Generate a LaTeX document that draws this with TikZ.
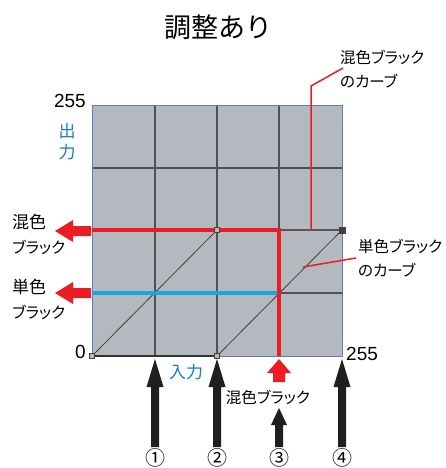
\documentclass[tikz,border=0pt]{standalone}
\usepackage{fontspec}
\setmainfont{Liberation Sans}
\newfontfamily\jp[RawFeature=+palt]{Noto Sans CJK JP}
\newfontfamily\jpn{Noto Sans CJK JP}
\definecolor{gridfill}{HTML}{B4B9BF}
\definecolor{gridline}{HTML}{4E5257}
\definecolor{frameblue}{HTML}{5B7DC0}
\definecolor{redc}{HTML}{EC1C24}
\definecolor{cyanc}{HTML}{17A5E3}
\definecolor{labblue}{HTML}{1B7DC4}
\definecolor{curvec}{HTML}{4A3C3A}
\begin{document}
\begin{tikzpicture}[x=1pt,y=-1pt,
  lab/.style={font=\jp\fontsize{15.5}{18}\selectfont, inner sep=0pt, align=left},
  num/.style={font=\fontsize{19}{21}\selectfont, inner sep=0pt},
  bluelab/.style={font=\jpn\fontsize{17}{19}\selectfont, text=labblue, inner sep=0pt},
  circ/.style={font=\jpn\fontsize{20}{22}\selectfont, inner sep=0pt},
  gridl/.style={draw=gridline, line width=1.1pt},
  curve/.style={draw=curvec, line width=0.8pt},
  pt/.style={draw=curvec, line width=0.8pt, fill=gridfill, minimum size=5pt, inner sep=0pt, rectangle},
  blk/.style={fill=black!88},
  leader/.style={draw=redc, line width=1.5pt}
]
\useasboundingbox (0,0) rectangle (445,468);

% title
\node[font=\jpn\fontsize{27}{30}\selectfont, inner sep=0pt] (title) at (218,27) {調整あり};

% grid
\fill[gridfill] (92,105) rectangle (342,356);
\foreach \x in {155,217,279} \draw[gridl] (\x,105) -- (\x,356);
\foreach \y in {168,230,293} \draw[gridl] (92,\y) -- (342,\y);
\draw[frameblue, line width=0.9pt] (92,105) rectangle (342,356);

% coordinates
\coordinate (o) at (92,356);
\coordinate (p2) at (217,356);
\coordinate (q) at (217,230);
\coordinate (r) at (342,230);
\coordinate (rc) at (279,230);
\coordinate (rb) at (279,356);
\coordinate (bl) at (92,293);
\coordinate (bc) at (279,293);
\coordinate (rl) at (92,230);

% curves
\draw[black!80, line width=1.4pt] (o) -- (p2);
\draw[curve] (o) -- (q);
\draw[curve] (p2) -- (r);
\draw[curvec!80!gridfill, line width=1.6pt] (rc) -- (r);

% colored lines
\draw[cyanc, line width=3.6pt] (bl) -- (bc);
\draw[redc, line width=3.6pt, line join=miter] (rl) -- (rc) -- (rb);

% points
\node[pt] (n0) at (o) {};
\node[pt] (n1) at (q) {};
\node[pt] (n2) at (p2) {};
\node[pt, fill=curvec, minimum size=6pt] (n3) at (r) {};

% axis labels
\node[num, anchor=east] (t255) at (86,101) {255};
\node[num, anchor=east] (t0) at (86,352) {0};
\node[num, anchor=west] (r255) at (346,354) {255};
\node[bluelab] (out1) at (67,131) {出};
\node[bluelab] (out2) at (67,152) {力};
\node[bluelab] (inp) at (186,372) {入力};

% left red arrows
\fill[redc] (55,231) -- (73,220) -- (73,226) -- (91,226) -- (91,236) -- (73,236) -- (73,242) -- cycle;
\fill[redc] (55,293) -- (73,282) -- (73,288) -- (91,288) -- (91,298) -- (73,298) -- (73,304) -- cycle;
\node[lab, anchor=west, font=\jp\fontsize{17}{19}\selectfont] (mix1) at (12,222) {混色};
\node[lab, anchor=west] (mix2) at (12,247) {ブラック};
\node[lab, anchor=west, font=\jp\fontsize{17}{19}\selectfont] (sgl1) at (12,287) {単色};
\node[lab, anchor=west] (sgl2) at (12,312) {ブラック};

% top-right label
\node[lab, anchor=west] (mc1) at (340,57) {混色ブラック};
\node[lab, anchor=west] (mc2) at (340,81) {のカーブ};
\coordinate (mca) at (343,68);
\coordinate (mcb) at (311,86);
\coordinate (mcc) at (311,229);
\draw[leader] (mca) -- (mcb) -- (mcc);

% right label
\node[lab, anchor=west] (sc1) at (358,246) {単色ブラック};
\node[lab, anchor=west] (sc2) at (358,270) {のカーブ};
\coordinate (sca) at (356,258);
\coordinate (scb) at (303,267);
\draw[leader] (sca) -- (scb);

% bottom black arrows
\foreach \x in {155,217,342}
  \fill[blk] (\x,359) -- (\x+8.5,387) -- (\x+4,387) -- (\x+4,447) -- (\x-4,447) -- (\x-4,387) -- (\x-8.5,387) -- cycle;
\fill[blk] (279,408) -- (287,425) -- (283,425) -- (283,447) -- (275,447) -- (275,425) -- (271,425) -- cycle;
% red up arrow
\fill[redc] (279,359) -- (291,373) -- (285,373) -- (285,382) -- (273,382) -- (273,373) -- (267,373) -- cycle;
\node[lab, anchor=center] (mixb) at (268,397) {混色ブラック};

% circled numbers
\node[circ] (c1) at (155,458) {①};
\node[circ] (c2) at (217,458) {②};
\node[circ] (c3) at (279,458) {③};
\node[circ] (c4) at (342,458) {④};
\end{tikzpicture}
\end{document}
